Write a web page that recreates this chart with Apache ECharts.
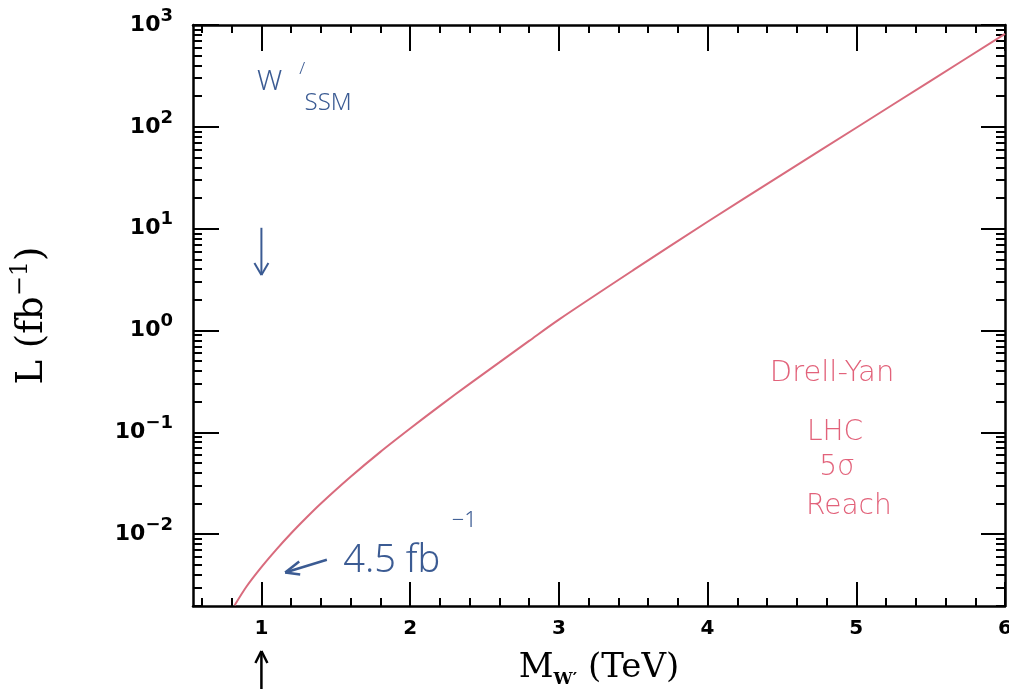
<!DOCTYPE html>
<html>
<head>
<meta charset="utf-8">
<script src="https://cdn.jsdelivr.net/npm/echarts@6/dist/echarts.min.js"></script>
<style>
  html, body { margin: 0; padding: 0; background: #fff; }
  #chart { width: 1009px; height: 689px; }
</style>
</head>
<body>
<div id="chart"></div>
<script>
// W' mass (TeV) and the luminosity needed for a 5 sigma discovery (fb^-1)
const massTeV = [0.82, 0.9, 1.0, 1.1, 1.2, 1.3, 1.4, 1.6, 1.8, 2.0, 2.2, 2.4, 2.6, 2.8, 3.0, 3.5, 4.0, 4.5, 5.0, 5.5, 6.0];
const lumiFb = [0.002, 0.00306, 0.00474, 0.00705, 0.0102, 0.0144, 0.02, 0.0366, 0.0643, 0.109, 0.182, 0.299, 0.486, 0.791, 1.28, 3.91, 11.7, 34, 98, 283, 817];

const xMajorTicks = [1, 2, 3, 4, 5, 6];
const yDecades = [0.01, 0.1, 1, 10, 100, 1000];
const xMin = 0.54, xMax = 6;
const yMin = 0.00197, yMax = 1000;

const xMinorTicks = [];
for (let i = 3; i <= 30; i++) {
  if (i % 5 !== 0) xMinorTicks.push(i / 5);
}
const yMinorTicks = [];
for (let e = -3; e <= 2; e++) {
  for (let k = 2; k <= 9; k++) {
    const v = Number((k * Math.pow(10, e)).toPrecision(3));
    if (v > yMin && v < yMax) yMinorTicks.push(v);
  }
}

const chart = echarts.init(document.getElementById("chart"));

const black = "#000";
const tickFont = "DejaVu Sans";
const titleFont = "DejaVu Serif";
const lineCol = "#d96b7d";
const blue = "#3b5b93";
const red = "#e2627a";

function xAxisDef(position, ticks, len, main) {
  return {
    type: "value",
    position: position,
    min: xMin,
    max: xMax,
    axisLine: { show: main, onZero: false, lineStyle: { color: black, width: 2.5 } },
    axisTick: { inside: true, length: len, customValues: ticks, lineStyle: { color: black, width: 2 } },
    axisLabel: {
      show: main && position === "bottom",
      customValues: xMajorTicks,
      margin: 13,
      fontFamily: tickFont,
      fontWeight: "bold",
      fontSize: 20,
      color: black,
    },
    splitLine: { show: false },
  };
}

function yAxisDef(position, ticks, len, main) {
  return {
    type: "log",
    logBase: 10,
    position: position,
    min: yMin,
    max: yMax,
    axisLine: { show: main, onZero: false, lineStyle: { color: black, width: 2.5 } },
    axisTick: { inside: true, length: len, customValues: ticks, lineStyle: { color: black, width: 2 } },
    axisLabel: {
      show: main && position === "left",
      customValues: yDecades,
      margin: 20,
      formatter: (v) => {
        const e = Math.round(Math.log10(v));
        return "{b|10}{e|" + (e < 0 ? "\u2212" + -e : e) + "}";
      },
      rich: {
        b: { fontFamily: tickFont, fontWeight: "bold", fontSize: 22, color: black, lineHeight: 36 },
        e: { fontFamily: tickFont, fontWeight: "bold", fontSize: 18, color: black, lineHeight: 18, verticalAlign: "top" },
      },
    },
    splitLine: { show: false },
  };
}

const xAxes = [
  xAxisDef("bottom", xMajorTicks, 24, true),
  xAxisDef("bottom", xMinorTicks, 8, false),
  xAxisDef("top", xMajorTicks, 26, true),
  xAxisDef("top", xMinorTicks, 8, false),
];
Object.assign(xAxes[0], {
  name: "{m|M}{s|W\u2032}{t| (TeV)}",
  nameLocation: "middle",
  nameGap: 42,
  nameTextStyle: {
    rich: {
      m: { fontFamily: titleFont, fontSize: 34, color: black, lineHeight: 40 },
      s: { fontFamily: titleFont, fontWeight: "bold", fontSize: 17, color: black, lineHeight: 17, verticalAlign: "bottom" },
      t: { fontFamily: titleFont, fontSize: 34, color: black, lineHeight: 40 },
    },
  },
});

const yAxes = [
  yAxisDef("left", yDecades, 26, true),
  yAxisDef("left", yMinorTicks, 9, false),
  yAxisDef("right", yDecades, 24, true),
  yAxisDef("right", yMinorTicks, 9, false),
];
Object.assign(yAxes[0], {
  name: "{t|L (fb}{e|\u22121}{t|)}",
  nameLocation: "middle",
  nameGap: 138,
  nameRotate: 90,
  nameTextStyle: {
    rich: {
      t: { fontFamily: titleFont, fontSize: 37, color: black, lineHeight: 46 },
      e: { fontFamily: titleFont, fontSize: 24, color: black, lineHeight: 24, verticalAlign: "top" },
    },
  },
});

chart.setOption({
  animation: false,
  backgroundColor: "#fff",
  grid: { left: 193, right: 4, top: 25, bottom: 83, containLabel: false, outerBoundsMode: "none" },
  xAxis: xAxes,
  yAxis: yAxes,
  series: [
    {
      type: "line",
      xAxisIndex: 0,
      yAxisIndex: 0,
      data: massTeV.map((m, i) => [m, lumiFb[i]]),
      smooth: 0.3,
      showSymbol: false,
      lineStyle: { color: lineCol, width: 2 },
      clip: true,
    },
  ],
});

// hand-written notes, placed in data coordinates
const p = (x, y) => chart.convertToPixel({ xAxisIndex: 0, yAxisIndex: 0 }, [x, y]);
const blueFont = "Noto Sans";
const redFont = "DejaVu Sans";

function note(pt, text, size, color, align, font) {
  return {
    type: "text",
    x: pt[0],
    y: pt[1],
    style: {
      text: text,
      fontFamily: font || blueFont,
      fontWeight: 300,
      fontSize: size,
      fill: color,
      align: align || "center",
      verticalAlign: "middle",
    },
  };
}

function line(a, b, color, w) {
  return {
    type: "polyline",
    shape: { points: [a, b] },
    style: { stroke: color, lineWidth: w, fill: null },
  };
}

const downTop = p(1, 10.2);
const downTip = p(1, 3.5);
const leftTip = p(1.16, 0.0042);
const leftTail = p(1.44, 0.0056);
const upX = p(1, 1)[0];

chart.setOption({
  graphic: [
    note(p(0.97, 275), "W", 28, blue, "left"),
    note(p(1.255, 370), "/", 17, blue, "left"),
    note(p(1.29, 170), "SSM", 24, blue, "left"),
    line(downTop, downTip, blue, 2),
    line(downTip, [downTip[0] - 7, downTip[1] - 12], blue, 2),
    line(downTip, [downTip[0] + 7, downTip[1] - 12], blue, 2),
    line(leftTip, leftTail, blue, 2.5),
    line(leftTip, [leftTip[0] + 14, leftTip[1] - 11], blue, 2.5),
    line(leftTip, [leftTip[0] + 15, leftTip[1] + 2], blue, 2.5),
    note(p(1.55, 0.00543), "4.5 fb", 38, blue, "left"),
    note(p(2.28, 0.0134), "\u22121", 22, blue, "left"),
    note(p(4.837, 0.382), "Drell-Yan", 29, red, "center", redFont),
    note(p(4.857, 0.1), "LHC", 28, red, "center", redFont),
    note(p(4.87, 0.0445), "5\u03c3", 28, red, "center", redFont),
    note(p(4.95, 0.0184), "Reach", 28, red, "center", redFont),
    line([upX, 689], [upX, 651], black, 2.5),
    line([upX, 651], [upX - 6, 663], black, 2.5),
    line([upX, 651], [upX + 6, 663], black, 2.5),
  ],
});
</script>
</body>
</html>
